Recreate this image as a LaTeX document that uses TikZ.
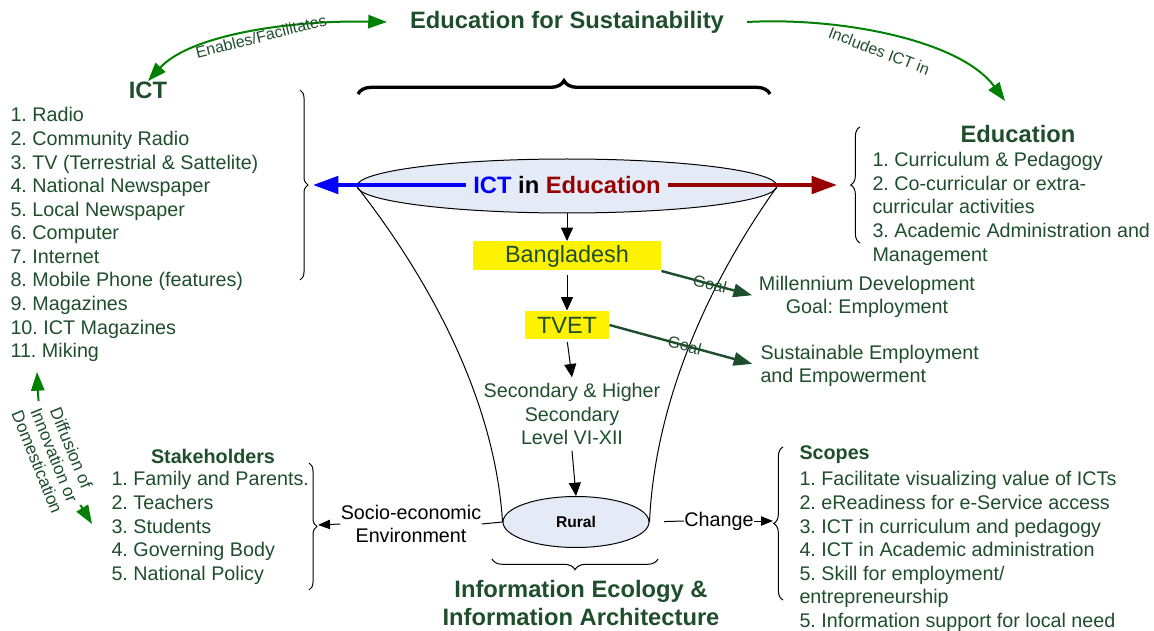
\documentclass[tikz,border=0pt]{standalone}
\usepackage{fontspec}
\setmainfont{Liberation Sans}
\usetikzlibrary{arrows.meta,decorations.pathreplacing,shapes.geometric}
\frenchspacing

\definecolor{dgreen}{RGB}{31,78,45}
\definecolor{grn}{RGB}{0,128,0}
\definecolor{dred}{RGB}{153,0,0}
\definecolor{lblue}{RGB}{228,235,247}

\tikzset{
	body/.style={font=\fontsize{14.8}{17.7}\selectfont, text=dgreen, inner sep=0pt, align=left},
	heading/.style={font=\fontsize{17.8}{21.3}\selectfont\bfseries, text=dgreen, inner sep=0pt},
	brc/.style={decorate, decoration={brace, amplitude=#1}},
	grnarrow/.style={grn, line width=1.5pt, {Triangle[length=14pt,width=10pt]}-{Triangle[length=14pt,width=10pt]}},
	goalarrow/.style={dgreen, line width=1.8pt, -{Triangle[length=14pt,width=10pt]}},
	downarrow/.style={-{Triangle[length=10pt,width=9pt]}},
	smallarrow/.style={-{Triangle[length=9pt,width=7pt]}},
	curvelabel/.style={font=\fontsize{12}{12.5}\selectfont, text=dgreen, inner sep=0pt},
	yellowbox/.style={fill=yellow, font=\fontsize{17.6}{20}\selectfont, text=dgreen, inner sep=0pt}}
\tikzset{every picture/.style={line width=0.75pt}}

\begin{document}
\begin{tikzpicture}[x=0.75pt,y=0.75pt,yscale=-1,xscale=1]
	\useasboundingbox (0,0) rectangle (1154,631);

	% Headings
	\node[heading, inner xsep=17pt] (efs) at (567,22) {Education for Sustainability};
	\node[heading] (ict) at (148,90) {ICT};
	\node[heading] (edu) at (1018,134) {Education};
	\node[heading, align=center] (infoeco) at (581,603) {Information Ecology \&\\Information Architecture};

	% Lists
	\node[body, anchor=north west] (ictlist) at (10,107) {1. Radio\\2. Community Radio\\3. TV (Terrestrial \& Sattelite)\\4. National Newspaper\\5. Local Newspaper\\6. Computer\\7. Internet\\8. Mobile Phone (features)\\9. Magazines\\10. ICT Magazines\\11. Miking};
	\node[body, anchor=north west] (edulist) at (872,152) {1. Curriculum \& Pedagogy\\2. Co-curricular or extra-\\curricular activities\\3. Academic Administration and\\Management};
	\node[body, font=\fontsize{14.8}{17.7}\selectfont\bfseries] (stake) at (213,456) {Stakeholders};
	\node[body, anchor=north west] (stakelist) at (111,471) {1. Family and Parents.\\2. Teachers\\3. Students\\4. Governing Body\\5. National Policy};
	\node[body, anchor=west, font=\fontsize{14.8}{17.7}\selectfont\bfseries] (scopes) at (799,455) {Scopes};
	\node[body, anchor=north west] (scopelist) at (799,471) {1. Facilitate visualizing value of ICTs\\2. eReadiness for e-Service access\\3. ICT in curriculum and pedagogy\\4. ICT in Academic administration\\5. Skill for employment/\\entrepreneurship\\5. Information support for local need};

	% Funnel
	\node[ellipse, draw, fill=lblue, minimum width=315pt, minimum height=40.5pt, inner sep=0pt] (iedu) at (567,186) {};
	\node[heading, inner sep=5pt, text=black] (ietxt) at (567,185) {\textcolor{blue}{ICT} in \textcolor{dred}{Education}};
	\node[ellipse, draw, fill=lblue, minimum width=109.5pt, minimum height=38.25pt, inner sep=0pt, font=\fontsize{11.7}{12}\selectfont\bfseries] (rural) at (576,522) {Rural};
	\draw (iedu.west) .. controls (430,280) and (495,400) .. (rural.west);
	\draw (iedu.east) .. controls (710,280) and (655,400) .. (rural.east);

	\node[yellowbox, minimum width=141pt, minimum height=21.75pt] (bd) at (567,256) {Bangladesh};
	\node[yellowbox, minimum width=63pt, minimum height=21pt] (tvet) at (567,325) {TVET};
	\node[body, align=center, inner sep=4pt] (sec) at (572,414) {Secondary \& Higher\\Secondary\\Level VI-XII};

	\node[body, align=center] (mdg) at (867,297) {Millennium Development\\Goal: Employment};
	\node[body, anchor=west] (sustemp) at (760,366) {Sustainable Employment\\and Empowerment};
	\node[body, text=black, align=center] (socio) at (411,524) {Socio-economic\\Environment};
	\node[body, text=black] (change) at (719,521) {Change};

	% Braces
	\draw[brc=10pt, line width=2.5pt] (358,94) -- (770,94);
	\draw[brc=6pt] (300,90) -- (300,280);
	\draw[brc=7pt] (860,243) -- (860,127);
	\draw[brc=6pt] (309,463) -- (309,590);
	\draw[brc=7pt] (783,600) -- (783,447);
	\draw[brc=8pt] (658,559) -- (492,559);
	\coordinate (ictbr) at (313,185);
	\coordinate (edubr) at (837,185);
	\coordinate (stakebr) at (318,525);
	\coordinate (scopebr) at (773,521);

	% Arrows
	\draw[blue, line width=3pt, -{Triangle[length=19pt,width=13pt]}] (ietxt.west) -- (ictbr);
	\draw[dred, line width=3pt, -{Triangle[length=19pt,width=13pt]}] (ietxt.east) -- (edubr);
	\draw[downarrow] (iedu.south) -- (bd.north);
	\draw[downarrow, shorten <=3pt] (bd.south) -- (tvet.north);
	\draw[downarrow, shorten <=2pt] (tvet.south) -- (sec.north);
	\draw[downarrow] (sec.south) -- (rural.north);
	\draw[goalarrow, shorten >=5pt] (bd.south east) -- node[curvelabel, rotate=-14] {Goal} (mdg.west);
	\draw[goalarrow, shorten >=6pt] (tvet.east) -- node[curvelabel, rotate=-14] {Goal} (sustemp.west);
	\draw (rural.west) -- (socio.east);
	\draw[smallarrow] (socio.west) -- (stakebr);
	\draw[shorten <=11pt] (rural.east) -- (change.west);
	\draw[smallarrow] (change.east) -- (scopebr);

	% Green curved arrows
	\draw[grnarrow] (ict.north) .. controls (190,35) and (290,20) .. (efs.west) node[curvelabel, pos=0.55, rotate=14, below=-1pt] {Enables/Facilitates};
	\coordinate (eduin) at (1005,101);
	\draw[grn, line width=1.5pt, -{Triangle[length=14pt,width=10pt]}] (efs.east) .. controls (840,17) and (960,40) .. (eduin) node[curvelabel, pos=0.47, rotate=-21, anchor=north, inner ysep=8pt] {Includes ICT in};
	\coordinate (diffa) at (37,372);
	\coordinate (diffb) at (92,524);
	\draw[grnarrow] (diffa) .. controls (40,440) and (62,475) .. (diffb) node[midway, fill=white, rotate=-68, align=center, inner sep=1pt, text=dgreen, font=\fontsize{12.9}{13.8}\selectfont] {Diffusion of\\Innovation or\\Domestication};

\end{tikzpicture}
\end{document}
